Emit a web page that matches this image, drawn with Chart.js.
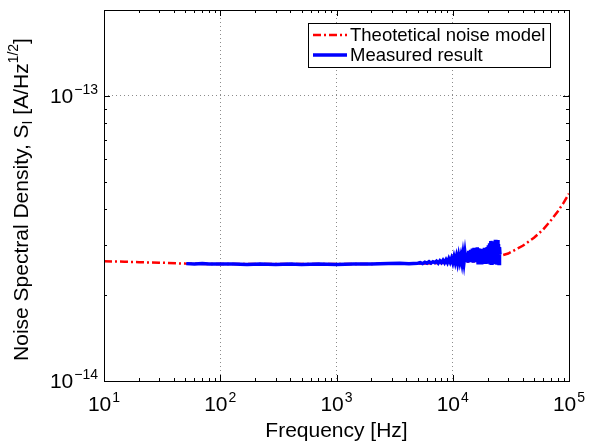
<!DOCTYPE html>
<html>
<head>
<meta charset="utf-8">
<script src="https://cdn.jsdelivr.net/npm/chart.js@4.4.1/dist/chart.umd.min.js"></script>
<style>
  html, body { margin: 0; padding: 0; background: #fff; }
  #wrap { width: 592px; height: 443px; }
</style>
</head>
<body>
<div id="wrap"><canvas id="psd" width="592" height="443"></canvas></div>
<script>
// values are in units of 1e-14 A/Hz^1/2
var UNIT = 1e-14;

var modelFreq = [10, 15, 20, 30, 50, 100, 1000, 5000, 10000, 15000, 20000, 25000, 30000, 40000, 50000, 60000, 70000, 80000, 90000, 100000];
var modelSI   = [2.63, 2.62, 2.61, 2.60, 2.58, 2.57, 2.57, 2.58, 2.60, 2.63, 2.68, 2.74, 2.80, 2.98, 3.18, 3.40, 3.66, 3.93, 4.22, 4.54];

var measFreq = [51, 60, 70, 80, 100, 130, 170, 220, 300, 400, 500, 700, 1000, 1400, 2000, 2800, 3500, 4200,
  5000, 5250, 5500, 5750, 6000, 6250, 6500, 6750, 7000, 7250, 7500, 7750, 8000, 8250, 8500, 8750, 9000, 9250, 9500, 9750,
  10000, 10250, 10500, 10750, 11000, 11250, 11500, 11750, 12000, 12250, 12500, 12750, 13000, 13250, 13500, 13750,
  14000, 14250, 14500, 14750, 15000, 15250, 15500, 15750, 16000, 16250, 16500, 16750, 17000, 17250, 17500, 17750,
  18000, 18250, 18500, 18750, 19000, 19250, 19500, 19750, 20000, 20250, 20500, 20750, 21000, 21250, 21500, 21750,
  22000, 22250, 22500, 22750, 23000, 23250, 23500, 23750, 24000, 24250, 24500, 24750, 25000, 25250, 25500];
var measSI = [2.58, 2.57, 2.58, 2.57, 2.57, 2.57, 2.56, 2.57, 2.56, 2.57, 2.56, 2.57, 2.56, 2.57, 2.57, 2.58, 2.59, 2.58,
  2.59, 2.60, 2.58, 2.61, 2.59, 2.62, 2.59, 2.62, 2.60, 2.63, 2.59, 2.64, 2.60, 2.65, 2.60, 2.66, 2.60, 2.68, 2.61, 2.69,
  2.60, 2.72, 2.61, 2.73, 2.60, 2.75, 2.62, 2.74, 2.60, 2.78, 2.61, 2.80, 2.62, 2.82, 2.60, 2.86,
  2.61, 2.88, 2.62, 2.91, 2.60, 2.93, 2.61, 2.90, 2.62, 2.94, 2.60, 2.92, 2.61, 2.89, 2.60, 2.91,
  2.62, 2.88, 2.59, 2.93, 2.61, 2.90, 2.58, 2.95, 2.60, 2.99, 2.58, 3.04, 2.60, 3.10, 2.59, 3.06,
  2.58, 3.00, 2.57, 3.09, 2.58, 3.13, 2.57, 3.08, 2.56, 3.12, 2.57, 3.02, 2.58, 2.95, 2.78];

var seriesNames = ['Theotetical noise model', 'Measured result'];

var xTicks = [10, 100, 1000, 10000, 100000];
var xTickExp = ['1', '2', '3', '4', '5'];
var yTicks = [1e-14, 1e-13];
var yTickExp = ['\u221214', '\u221213'];

var FONT = '"Liberation Sans", Arial, Helvetica, sans-serif';
var BIG = 21, SMALL = 14;

function toPoints(fs, vs) {
  return fs.map(function(f, i) { return { x: f, y: vs[i] * UNIT }; });
}

// draws "10" with a raised exponent, anchored by align ('center' or 'right')
function drawPow(ctx, x, y, exp, align) {
  ctx.font = BIG + 'px ' + FONT;
  var wb = ctx.measureText('10').width;
  ctx.font = SMALL + 'px ' + FONT;
  var we = ctx.measureText(exp).width;
  var total = wb + 1 + we;
  var x0 = align === 'right' ? x - total : x - total / 2;
  ctx.textAlign = 'left';
  ctx.textBaseline = 'alphabetic';
  ctx.font = BIG + 'px ' + FONT;
  ctx.fillText('10', x0, y);
  ctx.font = SMALL + 'px ' + FONT;
  ctx.fillText(exp, x0 + wb + 1, y - 9);
}

var matlabAxes = {
  id: 'matlabAxes',
  afterDatasetsDraw: function(chart) {
    var ctx = chart.ctx;
    var a = chart.chartArea;
    var xs = chart.scales.x, ys = chart.scales.y;
    ctx.save();
    ctx.strokeStyle = '#000';
    ctx.fillStyle = '#000';
    ctx.lineWidth = 1;

    // frame
    ctx.strokeRect(Math.round(a.left) + 0.5, Math.round(a.top) + 0.5,
      Math.round(a.right - a.left), Math.round(a.bottom - a.top));

    // inward ticks, major and minor
    ctx.beginPath();
    for (var e = 1; e <= 5; e++) {
      for (var k = 1; k <= 9; k++) {
        var v = k * Math.pow(10, e);
        if (v > 100000) break;
        var px = Math.round(xs.getPixelForValue(v)) + 0.5;
        var len = k === 1 ? 6 : 3;
        ctx.moveTo(px, a.bottom); ctx.lineTo(px, a.bottom - len);
        ctx.moveTo(px, a.top); ctx.lineTo(px, a.top + len);
      }
    }
    for (var e2 = -14; e2 <= -13; e2++) {
      for (var k2 = 1; k2 <= 9; k2++) {
        var vy = k2 * Math.pow(10, e2);
        if (vy > 2e-13) break;
        var py = Math.round(ys.getPixelForValue(vy)) + 0.5;
        var ly = k2 === 1 ? 6 : 3;
        ctx.moveTo(a.left, py); ctx.lineTo(a.left + ly, py);
        ctx.moveTo(a.right, py); ctx.lineTo(a.right - ly, py);
      }
    }
    ctx.stroke();

    // tick labels
    xTicks.forEach(function(v, i) {
      drawPow(ctx, xs.getPixelForValue(v), a.bottom + 30, xTickExp[i], 'center');
    });
    yTicks.forEach(function(v, i) {
      drawPow(ctx, a.left - 6, ys.getPixelForValue(v) + 7, yTickExp[i], 'right');
    });

    // x title
    ctx.font = BIG + 'px ' + FONT;
    ctx.textAlign = 'center';
    ctx.textBaseline = 'alphabetic';
    ctx.fillText('Frequency [Hz]', (a.left + a.right) / 2, 437);

    // y title with subscript / superscript
    ctx.save();
    ctx.translate(28, (a.top + a.bottom) / 2 + 4);
    ctx.rotate(-Math.PI / 2);
    var parts = [
      { t: 'Noise Spectral Density, S', f: BIG, dy: 0 },
      { t: 'I', f: SMALL, dy: 4 },
      { t: ' [A/Hz', f: BIG, dy: 0 },
      { t: '1/2', f: SMALL, dy: -10 },
      { t: ']', f: BIG, dy: 0 }
    ];
    var tw = 0;
    parts.forEach(function(p) { ctx.font = p.f + 'px ' + FONT; p.w = ctx.measureText(p.t).width; tw += p.w; });
    var cx = -tw / 2;
    ctx.textAlign = 'left';
    parts.forEach(function(p) {
      ctx.font = p.f + 'px ' + FONT;
      ctx.fillText(p.t, cx, p.dy);
      cx += p.w;
    });
    ctx.restore();

    // legend box
    var lx = 308, ly0 = 23, lw = 242, lh = 44;
    ctx.fillStyle = '#fff';
    ctx.fillRect(lx, ly0, lw, lh);
    ctx.strokeStyle = '#000';
    ctx.lineWidth = 1;
    ctx.strokeRect(lx + 0.5, ly0 + 0.5, lw, lh);
    chart.data.datasets.forEach(function(ds, i) {
      var yy = ly0 + 12 + i * 20;
      ctx.beginPath();
      ctx.strokeStyle = ds.borderColor;
      ctx.lineWidth = ds.borderWidth;
      ctx.setLineDash(ds.borderDash || []);
      ctx.moveTo(313, yy); ctx.lineTo(347, yy);
      ctx.stroke();
      ctx.setLineDash([]);
      ctx.fillStyle = '#000';
      ctx.font = '18.5px ' + FONT;
      ctx.textAlign = 'left';
      ctx.textBaseline = 'middle';
      ctx.fillText(ds.label, 350, yy + 1);
    });
    ctx.restore();
  }
};

var ctx = document.getElementById('psd').getContext('2d');
var psdChart = new Chart(ctx, {
  type: 'line',
  data: {
    datasets: [
      {
        label: seriesNames[0],
        data: toPoints(modelFreq, modelSI),
        borderColor: '#ff0000',
        borderWidth: 2.5,
        borderDash: [8, 3, 2, 3],
        pointRadius: 0,
        tension: 0,
        order: 2
      },
      {
        label: seriesNames[1],
        data: toPoints(measFreq, measSI),
        borderColor: '#0000ff',
        borderWidth: 3.5,
        pointRadius: 0,
        tension: 0,
        order: 1
      }
    ]
  },
  options: {
    responsive: false,
    animation: false,
    devicePixelRatio: 1,
    layout: { padding: { left: 104, right: 23, top: 10, bottom: 62 } },
    plugins: { legend: { display: false }, tooltip: { enabled: false } },
    scales: {
      x: {
        type: 'logarithmic',
        min: 10,
        max: 100000,
        afterBuildTicks: function(s) { s.ticks = xTicks.map(function(v) { return { value: v }; }); },
        ticks: { display: false },
        grid: { color: '#8c8c8c', lineWidth: 1, drawTicks: false },
        border: { display: false, dash: [1, 3] }
      },
      y: {
        type: 'logarithmic',
        min: 1e-14,
        max: 2e-13,
        afterBuildTicks: function(s) { s.ticks = yTicks.map(function(v) { return { value: v }; }); },
        ticks: { display: false },
        grid: { color: '#8c8c8c', lineWidth: 1, drawTicks: false },
        border: { display: false, dash: [1, 3] }
      }
    }
  },
  plugins: [matlabAxes]
});
</script>
</body>
</html>
